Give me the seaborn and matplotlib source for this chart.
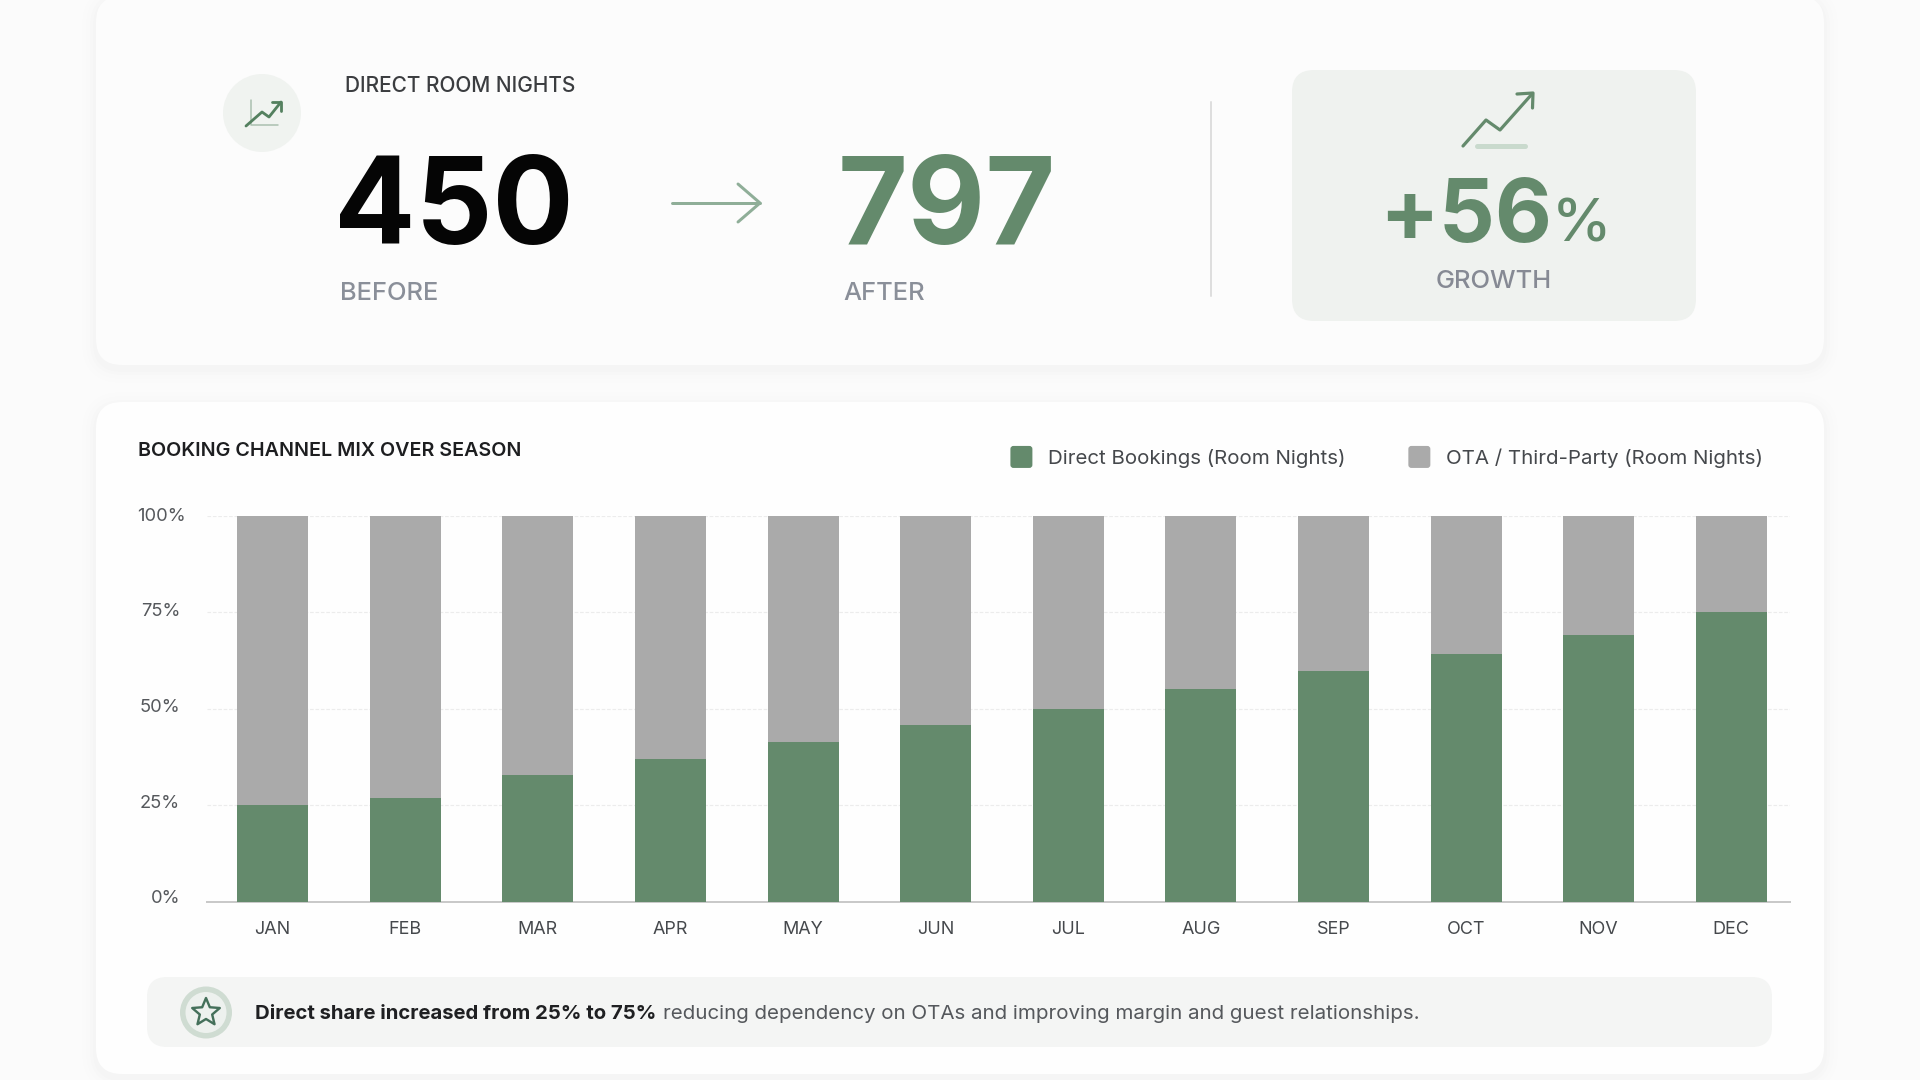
import matplotlib
matplotlib.use("Agg")
import matplotlib.pyplot as plt
from matplotlib.container import BarContainer
from matplotlib.legend_handler import HandlerPatch, update_from_first_child
from matplotlib.patches import FancyBboxPatch, Circle, Polygon
from matplotlib.transforms import ScaledTranslation
import numpy as np
import pandas as pd
import seaborn as sns

months = ["JAN", "FEB", "MAR", "APR", "MAY", "JUN", "JUL", "AUG", "SEP", "OCT", "NOV", "DEC"]
direct_share = [25, 26.7, 32.7, 36.8, 41.3, 45.7, 50, 55, 59.7, 64, 69, 75]
ota_share = [75, 73.3, 67.3, 63.2, 58.7, 54.3, 50, 45, 40.3, 36, 31, 25]
y_ticks = [0, 25, 50, 75, 100]
before_value = "450"
after_value = "797"
growth_value = "+56"

GREEN = "#648a6c"
GREY = "#aaaaaa"
W, H = 1920, 1080

sns.set_theme(style="white")
plt.rcParams["font.family"] = ["Inter", "DejaVu Sans"]

fig = plt.figure(figsize=(19.2, 10.8), dpi=100, facecolor="#fbfbfb")
px = 72 / 100  # one pixel in points

# Canvas in pixel units for the cards and the headline figures
bg = fig.add_axes([0, 0, 1, 1], zorder=0)
bg.set_xlim(0, W)
bg.set_ylim(H, 0)
bg.axis("off")


def card(x0, y0, x1, y1, radius, color, shadow=False):
    if shadow:
        for grow, alpha in zip([14, 10, 6, 3], [0.004, 0.005, 0.006, 0.008]):
            bg.add_patch(FancyBboxPatch((x0 - grow, y0 - grow + 4), x1 - x0 + 2 * grow, y1 - y0 + 2 * grow,
                                        boxstyle=f"round,pad=0,rounding_size={radius + grow}",
                                        fc="black", ec="none", alpha=alpha))
    bg.add_patch(FancyBboxPatch((x0, y0), x1 - x0, y1 - y0,
                                boxstyle=f"round,pad=0,rounding_size={radius}", fc=color, ec="none"))


def label(x, y, s, size, color, weight="normal", ha="left", va="center"):
    return bg.text(x, y, s, fontsize=size * px, color=color, fontweight=weight, ha=ha, va=va)


def stroke(points, color, width):
    xs, ys = zip(*points)
    bg.plot(xs, ys, color=color, lw=width * px, solid_capstyle="round", solid_joinstyle="round")


def rounded_swatch(legend, orig_handle, xdescent, ydescent, width, height, fontsize):
    side = 22 * px
    return FancyBboxPatch((-xdescent + (width - side) / 2, -ydescent + (height - side) / 2), side, side,
                          boxstyle=f"round,pad=0,rounding_size={3 * px}")


card(96, -4, 1824, 365, 26, "#fcfcfc", shadow=True)
card(96, 402, 1824, 1074, 26, "#fefefe", shadow=True)

# KPI header
bg.add_patch(Circle((262, 113), 39, fc="#f0f3f0", ec="none"))
stroke([(251, 100), (251, 125), (278, 125)], "#a9bfae", 1.5)
stroke([(246, 126), (262, 112), (269, 117), (281, 102)], "#54805f", 2.8)
stroke([(272, 102), (281, 102), (281, 111)], "#54805f", 2.8)
label(345, 86, "DIRECT ROOM NIGHTS", 20.9, "#3b3d40", "medium")

label(334, 244, before_value, 120.5, "#050505", "bold", va="baseline")
label(838, 244, after_value, 120.5, GREEN, "bold", va="baseline")
label(340, 294, "BEFORE", 25.5, "#8a8f99", "medium")
label(843, 294, "AFTER", 25.5, "#8a8f99", "medium")

stroke([(672, 203), (760, 203)], "#8fae98", 3)
stroke([(738, 184), (760, 203), (738, 222)], "#8fae98", 3)

bg.plot([1211, 1211], [102, 296], color="#dedede", lw=2 * px)

# Growth panel
card(1292, 70, 1696, 321, 22, "#eff2ef")
stroke([(1477, 146), (1525, 146)], "#c9dacd", 5)
stroke([(1463, 146), (1486, 120), (1500, 130), (1532, 94)], GREEN, 3.2)
stroke([(1517, 94), (1533, 93), (1532.5, 108)], GREEN, 3.2)
label(1379, 242, growth_value, 88, GREEN, "bold", va="baseline")
label(1552, 242, "%", 60, GREEN, "medium", va="baseline")
label(1494, 281, "GROWTH", 25.5, "#868a94", "medium", ha="center")

# Footer callout
card(147, 977, 1772, 1047, 20, "#f4f5f4")
bg.add_patch(Circle((206, 1012.5), 26, fc="#cfdcd2", ec="none"))
bg.add_patch(Circle((206, 1012.5), 20.5, fc="#edf1ee", ec="none"))
angles = np.deg2rad(np.arange(-90, 270, 36))
radii = np.where(np.arange(10) % 2 == 0, 14.5, 6.5)
bg.add_patch(Polygon(np.c_[206 + radii * np.cos(angles), 1012.5 + radii * np.sin(angles)],
                     closed=True, fc="none", ec="#44705a", lw=2.4 * px, joinstyle="round"))
label(255, 1014, "Direct share increased from 25% to 75%", 20.3, "#1f2022", "bold")
label(663, 1014, "reducing dependency on OTAs and improving margin and guest relationships.",
      20.55, "#55585c")

label(138, 451, "BOOKING CHANNEL MIX OVER SEASON", 19.7, "#1d1e20", "semibold")

# Stacked channel mix
ax = fig.add_axes([207 / W, 1 - 901.5 / H, (1790 - 207) / W, (901.5 - 515.5) / H], zorder=1)
ax.patch.set_alpha(0)
mix = pd.DataFrame({"month": months, "direct": direct_share, "ota": ota_share})
sns.barplot(data=mix, x="month", y="direct", color=GREEN, width=0.536, saturation=1, ax=ax,
            label="Direct Bookings (Room Nights)", linewidth=0, zorder=3)
sns.barplot(data=mix, x="month", y="ota", bottom=mix["direct"], color=GREY, width=0.536, saturation=1, ax=ax,
            label="OTA / Third-Party (Room Nights)", linewidth=0, zorder=3)

ax.set_xlim(-0.495, 11.443)
ax.set_ylim(0, 100)
ax.set_xlabel("")
ax.set_ylabel("")
ax.set_yticks(y_ticks)
ax.set_yticklabels([f"{v}%" for v in y_ticks], ha="right", fontsize=18.3 * px, color="#55585c")
ax.tick_params(axis="y", length=0, pad=27 * px)
ax.tick_params(axis="x", length=0, pad=19.5 * px, labelsize=18 * px, labelcolor="#45484c")

# The percent labels sit a little above their gridlines, the widest one overhanging to the right
label_shift = [(0, 5), (0, 4), (0, 2.5), (0, 2), (6, 1)]
for tick_label, (dx, dy) in zip(ax.get_yticklabels(), label_shift):
    tick_label.set_transform(tick_label.get_transform() + ScaledTranslation(dx / 100, dy / 100, fig.dpi_scale_trans))

ax.yaxis.grid(True, color="#ececec", lw=1.2 * px, ls=(0, (3, 1.5)), zorder=0)
ax.xaxis.grid(False)
sns.despine(ax=ax, left=True, top=True, right=True)
ax.spines["bottom"].set_color("#c9c9c9")
ax.spines["bottom"].set_linewidth(2 * px)
ax.set_axisbelow(True)

ax.legend(loc="center right", bbox_to_anchor=(1763 / W, 1 - 457.5 / H), bbox_transform=fig.transFigure,
          ncols=2, frameon=False, fontsize=20.5 * px, labelcolor="#45484c",
          handlelength=1.1, handleheight=1.1, handletextpad=0.75, columnspacing=3.05,
          borderaxespad=0, borderpad=0,
          handler_map={BarContainer: HandlerPatch(patch_func=rounded_swatch, update_func=update_from_first_child)})

fig.savefig("out.png", dpi=100, facecolor=fig.get_facecolor())
